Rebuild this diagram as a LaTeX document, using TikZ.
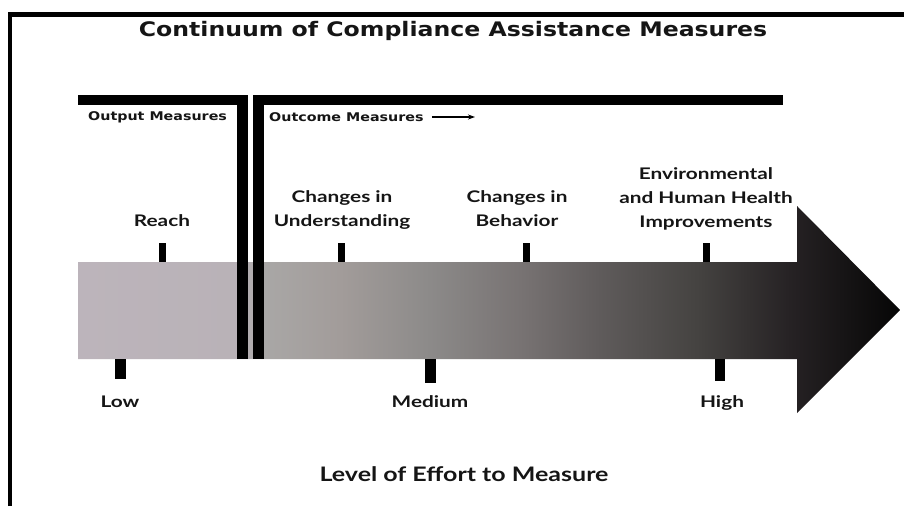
\documentclass[tikz,border=0pt]{standalone}
\usepackage{fontspec}
\setmainfont{Lato}
\newfontfamily\heavyfont{DejaVu Sans}
\usetikzlibrary{arrows.meta}
\definecolor{g0}{HTML}{BCB4BB}
\definecolor{g1}{HTML}{B9B2B7}
\definecolor{g2}{HTML}{A9A7A6}
\definecolor{g3}{HTML}{A29C9A}
\definecolor{g4}{HTML}{8C8A89}
\definecolor{g5}{HTML}{787373}
\definecolor{g6}{HTML}{5F5B5B}
\definecolor{g7}{HTML}{444240}
\definecolor{g8}{HTML}{262224}
\definecolor{g9}{HTML}{060606}
\definecolor{ink}{HTML}{151515}
\pgfdeclarehorizontalshading{effort}{100bp}{color(0bp)=(g0); color(25bp)=(g0); color(34.67bp)=(g1); color(36.31bp)=(g2); color(40.94bp)=(g3); color(46.41bp)=(g4); color(51.89bp)=(g5); color(56.75bp)=(g6); color(62.84bp)=(g7); color(68.31bp)=(g8); color(75bp)=(g9); color(100bp)=(g9)}
\newcommand\wlab[2][1.3]{\scalebox{#1}[1]{\begin{tabular}{@{}c@{}}#2\end{tabular}}}
\tikzset{
  lab/.style={inner sep=0pt, text=ink, font=\fontsize{16}{24}\selectfont\bfseries},
  biglab/.style={inner sep=0pt, text=ink, font=\fontsize{20}{24}\selectfont\bfseries},
  small/.style={inner sep=0pt, text=ink, font=\heavyfont\fontsize{12}{14}\selectfont\bfseries},
  titlestyle/.style={inner sep=0pt, text=ink, font=\heavyfont\fontsize{20}{24}\selectfont\bfseries},
  bracket/.style={fill=black},
  tickmark/.style={fill=black}
}
\begin{document}
\begin{tikzpicture}[x=1pt,y=-1pt]
\useasboundingbox (0,0) rectangle (904,506);
% frame
\draw[line width=4.5pt] (10,506) -- (10,14.5) -- (904,14.5);
% title
\node[titlestyle] (title) at (453,31) {\scalebox{1.18}[1]{Continuum of Compliance Assistance Measures}};
% gradient arrow
\shade[shading=effort] (78,262) -- (797,262) -- (797,206) -- (900,310) -- (797,413) -- (797,359) -- (78,359) -- cycle;
% brackets
\fill[bracket] (78,95) rectangle (248,105);
\fill[bracket] (237,95) rectangle (248,359);
\fill[bracket] (254,95) rectangle (783,105);
\fill[bracket] (253,95) rectangle (264,359);
\node[small, anchor=west] (outp) at (88,117) {\scalebox{1.19}[1]{Output Measures}};
\node[small, anchor=west] (outc) at (269,117) {\scalebox{1.19}[1]{Outcome Measures}};
\coordinate (arrend) at (475,117);
\draw[line width=1.6pt, -{Stealth[length=7pt,width=5pt]}] ([xshift=8pt]outc.east) -- (arrend);
% upper labels and ticks
\node[lab] (reach) at (162,222) {\wlab{Reach}};
\node[lab] (under) at (342,210) {\wlab{Changes in\\Understanding}};
\node[lab] (behav) at (517,210) {\wlab{Changes in\\Behavior}};
\node[lab] (envir) at (706,199) {\wlab{Environmental\\and Human Health\\Improvements}};
\fill[tickmark] (159,243) rectangle (166,262);
\fill[tickmark] (338,243) rectangle (345,262);
\fill[tickmark] (523,243) rectangle (530,262);
\fill[tickmark] (703,243) rectangle (710,262);
% lower ticks and labels
\fill[tickmark] (115,359) rectangle (126,379);
\fill[tickmark] (425,359) rectangle (436,383);
\fill[tickmark] (715,359) rectangle (725,381);
\node[lab] (low) at (120,403) {\wlab{Low}};
\node[lab] (med) at (430,403) {\wlab{Medium}};
\node[lab] (high) at (722,403) {\wlab{High}};
\node[biglab] (level) at (464,477) {\wlab[1.25]{Level of Effort to Measure}};
\end{tikzpicture}
\end{document}
